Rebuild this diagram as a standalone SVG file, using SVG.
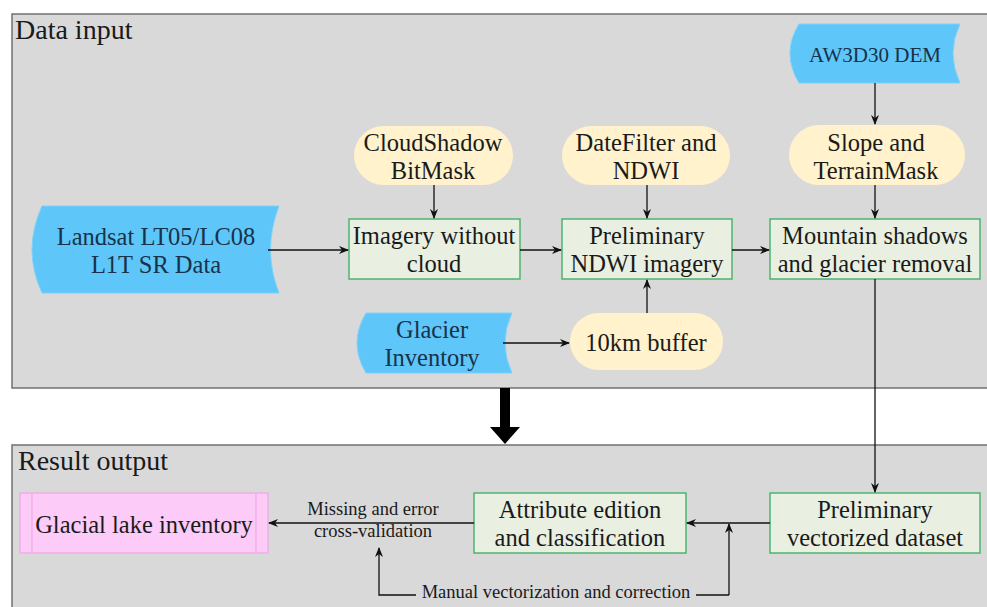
<svg xmlns="http://www.w3.org/2000/svg" width="987" height="607" viewBox="0 0 987 607">
<defs>
<style>
.panel{fill:#d9d9d9;stroke:#707070;stroke-width:1.5}
.data{fill:#5ec6f8;stroke:#7fd3f8;stroke-width:1}
.proc{fill:#fff2cc;stroke:none}
.box{fill:#e9f0e1;stroke:#4cb46e;stroke-width:1.5}
.out{fill:#fccbf8;stroke:#f0a6e6;stroke-width:1.2}
text{fill:#1a1a1a;text-anchor:middle}
.t{font-size:24.5px}
.td{font-size:24.5px;fill:#18324a}
.title{font-size:28px;text-anchor:start}
.lab{font-size:18.5px}
.ln{fill:none;stroke:#111;stroke-width:1.3}
</style>
<marker id="ah" markerWidth="10" markerHeight="10" refX="9" refY="5" orient="auto" markerUnits="userSpaceOnUse">
<path d="M0,1 L10,5 L0,9 L3,5 Z" fill="#111"/>
</marker>
</defs>
<rect x="0" y="0" width="987" height="607" fill="#ffffff"/>
<g font-family="'Liberation Serif', 'DejaVu Serif', serif">
<g id="panel-input">
<rect class="panel" x="12" y="14" width="990" height="374"/>
<text class="title" x="15" y="39">Data input</text>
</g>
<g id="panel-output">
<rect class="panel" x="12" y="445" width="990" height="180"/>
<text class="title" x="18" y="470">Result output</text>
</g>
<g id="landsat">
<path class="data" d="M42,206 L279,206 Q262,250 279,293 L42,293 Q22,250 42,206 Z"/>
<text class="td" x="156" y="245">Landsat LT05/LC08</text>
<text class="td" x="156" y="273">L1T SR Data</text>
</g>
<g id="cloudshadow">
<rect class="proc" x="354" y="126" width="159" height="59" rx="29.5"/>
<text class="t" x="433" y="151">CloudShadow</text>
<text class="t" x="433" y="179">BitMask</text>
</g>
<g id="imagery">
<rect class="box" x="349" y="219" width="171" height="60"/>
<text class="t" x="434" y="244">Imagery without</text>
<text class="t" x="434" y="272">cloud</text>
</g>
<g id="datefilter">
<rect class="proc" x="562" y="126" width="168" height="59" rx="29.5"/>
<text class="t" x="646" y="151">DateFilter and</text>
<text class="t" x="646" y="179">NDWI</text>
</g>
<g id="ndwi">
<rect class="box" x="562" y="219" width="170" height="60"/>
<text class="t" x="647" y="244">Preliminary</text>
<text class="t" x="647" y="272">NDWI imagery</text>
</g>
<g id="glacier">
<path class="data" d="M366,313 L512,313 Q498,343 512,373 L366,373 Q348,343 366,313 Z"/>
<text class="td" x="432" y="338">Glacier</text>
<text class="td" x="432" y="366">Inventory</text>
</g>
<g id="buffer">
<rect class="proc" x="570" y="313" width="153" height="57" rx="28.5"/>
<text class="t" x="646" y="351">10km buffer</text>
</g>
<g id="aw3d30">
<path class="data" d="M799,24 L960,24 Q946,53 960,83 L799,83 Q781,53 799,24 Z"/>
<text class="td" x="875" y="62" style="font-size:21px">AW3D30 DEM</text>
</g>
<g id="slope">
<rect class="proc" x="789" y="125" width="176" height="60" rx="30"/>
<text class="t" x="876" y="151">Slope and</text>
<text class="t" x="876" y="179">TerrainMask</text>
</g>
<g id="mountain">
<rect class="box" x="770" y="219" width="210" height="60"/>
<text class="t" x="875" y="244">Mountain shadows</text>
<text class="t" x="875" y="272">and glacier removal</text>
</g>
<g id="prelim-vector">
<rect class="box" x="770" y="493" width="210" height="60"/>
<text class="t" x="875" y="518">Preliminary</text>
<text class="t" x="875" y="546">vectorized dataset</text>
</g>
<g id="attribute">
<rect class="box" x="474" y="493" width="212" height="60"/>
<text class="t" x="580" y="518">Attribute edition</text>
<text class="t" x="580" y="546">and classification</text>
</g>
<g id="lake">
<rect class="out" x="20" y="493" width="248" height="60"/>
<line x1="32" y1="493" x2="32" y2="553" stroke="#f0a6e6" stroke-width="1.2"/>
<line x1="256" y1="493" x2="256" y2="553" stroke="#f0a6e6" stroke-width="1.2"/>
<text class="t" x="144" y="533">Glacial lake inventory</text>
</g>
<g id="connectors">
<line class="ln" x1="268" y1="250" x2="348" y2="250" marker-end="url(#ah)"/>
<line class="ln" x1="434" y1="185" x2="434" y2="218" marker-end="url(#ah)"/>
<line class="ln" x1="520" y1="250" x2="561" y2="250" marker-end="url(#ah)"/>
<line class="ln" x1="647" y1="185" x2="647" y2="218" marker-end="url(#ah)"/>
<line class="ln" x1="503" y1="343" x2="569" y2="343" marker-end="url(#ah)"/>
<line class="ln" x1="647" y1="313" x2="647" y2="280" marker-end="url(#ah)"/>
<line class="ln" x1="875" y1="83" x2="875" y2="124" marker-end="url(#ah)"/>
<line class="ln" x1="875" y1="185" x2="875" y2="218" marker-end="url(#ah)"/>
<line class="ln" x1="732" y1="250" x2="769" y2="250" marker-end="url(#ah)"/>
<line class="ln" x1="875" y1="279" x2="875" y2="492" marker-end="url(#ah)"/>
<line class="ln" x1="770" y1="523" x2="687" y2="523" marker-end="url(#ah)"/>
<line class="ln" x1="474" y1="523" x2="269" y2="523" marker-end="url(#ah)"/>
<polyline class="ln" points="729,595 729,524" marker-end="url(#ah)"/>
<line class="ln" x1="696" y1="595" x2="729" y2="595"/>
<polyline class="ln" points="416,595 379,595 379,548" marker-end="url(#ah)"/>
<path d="M500,388 L510,388 L510,427 L520,427 L505,444 L490,427 L500,427 Z" fill="#000"/>
<text class="lab" x="373" y="515">Missing and error</text>
<text class="lab" x="373" y="537">cross-validation</text>
<text class="lab" x="556" y="598">Manual vectorization and correction</text>
</g>
</g>
</svg>
